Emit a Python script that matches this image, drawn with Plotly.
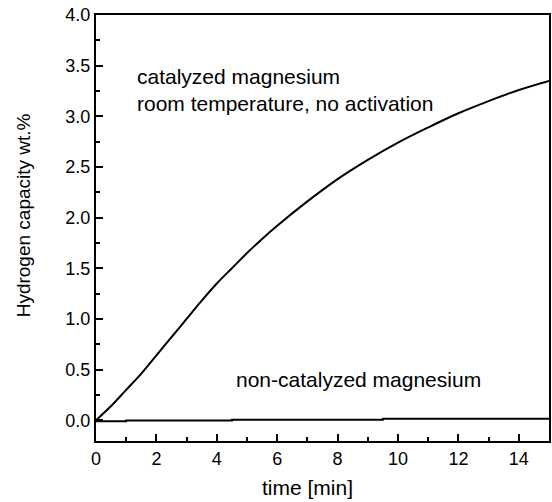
import plotly.graph_objects as go

# Hydrogen uptake of magnesium at room temperature
time_cat = [0, 0.5, 1, 1.5, 2, 2.5, 3, 3.5, 4, 4.5, 5, 5.5, 6, 7, 8, 9, 10, 11, 12, 13, 14, 15]
cap_cat = [0.0, 0.14, 0.30, 0.46, 0.64, 0.82, 1.00, 1.18, 1.35, 1.50, 1.65, 1.79, 1.92,
           2.16, 2.38, 2.57, 2.74, 2.89, 3.03, 3.15, 3.26, 3.35]

time_noncat = [0, 1, 4.5, 9.5, 15]
cap_noncat = [-0.01, -0.003, 0.005, 0.015, 0.015]

x_ticks = [0, 2, 4, 6, 8, 10, 12, 14]
y_ticks = [0.0, 0.5, 1.0, 1.5, 2.0, 2.5, 3.0, 3.5, 4.0]
y_tick_text = [f"{v:.1f}" for v in y_ticks]

FONT = "Liberation Sans, Arial, Helvetica, sans-serif"

fig = go.Figure()
fig.add_trace(go.Scatter(x=time_cat, y=cap_cat, mode="lines",
                         line=dict(color="black", width=2, shape="spline", smoothing=1.0),
                         showlegend=False))
fig.add_trace(go.Scatter(x=time_noncat, y=cap_noncat, mode="lines",
                         line=dict(color="black", width=2, shape="hv"),
                         showlegend=False))

axis_common = dict(showgrid=False, zeroline=False, showline=True, linecolor="black",
                   linewidth=2, mirror=True, ticks="inside", tickcolor="black",
                   tickwidth=2, ticklen=7,
                   tickfont=dict(family=FONT, size=18, color="black"))

fig.update_xaxes(range=[0, 15], tickvals=x_ticks, ticktext=[str(v) for v in x_ticks],
                 minor=dict(ticks="inside", dtick=1, tick0=0, ticklen=4, tickwidth=2,
                            tickcolor="black", showgrid=False),
                 **axis_common)
fig.update_yaxes(range=[-0.205, 4.0], tickvals=y_ticks, ticktext=y_tick_text,
                 minor=dict(ticks="inside", dtick=0.25, tick0=0, ticklen=4, tickwidth=2,
                            tickcolor="black", showgrid=False),
                 **axis_common)

ann_font = dict(family=FONT, size=21, color="black")
fig.add_annotation(x=1.28, y=3.39, xref="x", yref="y", text="catalyzed magnesium",
                   showarrow=False, xanchor="left", yanchor="middle", font=ann_font)
fig.add_annotation(x=1.28, y=3.13, xref="x", yref="y", text="room temperature, no activation",
                   showarrow=False, xanchor="left", yanchor="middle", font=ann_font)
fig.add_annotation(x=4.58, y=0.40, xref="x", yref="y", text="non-catalyzed magnesium",
                   showarrow=False, xanchor="left", yanchor="middle", font=ann_font)

W, H = 552, 502
L, R, T, B = 96, 1, 15, 61
pw, ph = W - L - R, H - T - B

# axis titles, placed in paper coordinates
fig.add_annotation(text="time [min]", showarrow=False, xref="paper", yref="paper",
                   x=(308 - L) / pw, y=(H - B - 488) / ph,
                   xanchor="center", yanchor="middle",
                   font=dict(family=FONT, size=21, color="black"))
fig.add_annotation(text="Hydrogen capacity wt.%", showarrow=False, textangle=-90,
                   xref="paper", yref="paper",
                   x=(23 - L) / pw, y=(H - B - 215) / ph,
                   xanchor="center", yanchor="middle",
                   font=dict(family=FONT, size=19, color="black"))

fig.update_layout(width=W, height=H, margin=dict(l=L, r=R, t=T, b=B),
                  plot_bgcolor="white", paper_bgcolor="white",
                  font=dict(family=FONT, color="black"))

fig.write_html("out.html")
